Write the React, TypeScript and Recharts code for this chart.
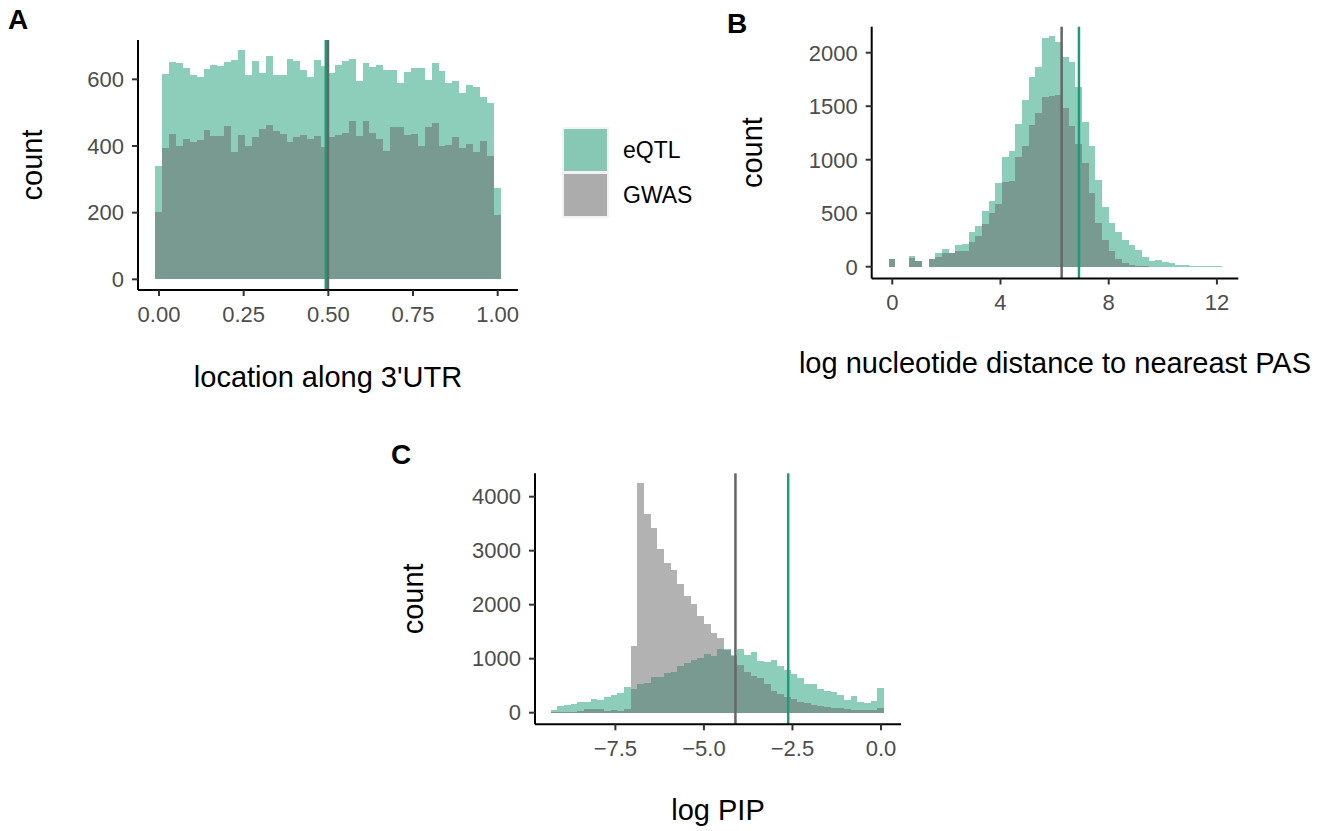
import React from "react";
import { Bar, ComposedChart, ReferenceLine, XAxis, YAxis } from "recharts";

const FONT = '"Liberation Sans", Arial, Helvetica, sans-serif';
const EQTL_COLOR = "#1b9e77";
const GWAS_COLOR = "#666666";

// A: location along 3'UTR (50 bins centred on 0 .. 1)
const utrBinStart = 0;
const utrBinWidth = 1 / 49;
const utrEqtl = [
	340, 615, 651, 649, 633, 612, 606, 630, 642, 639, 651, 657, 687, 612, 654, 618, 669,
	612, 612, 660, 654, 627, 606, 657, 639, 618, 642, 654, 660, 594, 648, 636, 642, 627,
	627, 588, 621, 633, 633, 597, 648, 624, 588, 594, 558, 582, 576, 546, 528, 273,
];
const utrGwas = [
	201, 393, 435, 399, 420, 411, 417, 447, 429, 431, 459, 381, 432, 399, 426, 450, 462,
	444, 435, 411, 426, 432, 420, 429, 396, 426, 432, 438, 474, 429, 474, 438, 420, 384,
	456, 456, 432, 435, 399, 456, 468, 399, 402, 426, 393, 405, 381, 414, 369, 192,
];
const utrXTicks = [0, 0.25, 0.5, 0.75, 1];
const utrYTicks = [0, 200, 400, 600];
const utrMedianEqtl = 0.4925;
const utrMedianGwas = 0.499;

// B: log nucleotide distance to nearest PAS
const pasBinStart = 0;
const pasBinWidth = 0.2464;
const pasEqtl = [
	70, 0, 0, 100, 53, 0, 75, 131, 166, 131, 203, 213, 326, 382, 520, 617, 783, 1027,
	1086, 1330, 1556, 1772, 1862, 2138, 2157, 2097, 1956, 1909, 1684, 1349, 1130, 811,
	560, 413, 326, 250, 203, 157, 94, 56, 63, 41, 31, 16, 13, 9, 6, 6, 3, 3,
];
const pasGwas = [
	70, 0, 0, 81, 53, 0, 75, 94, 131, 125, 150, 150, 235, 288, 400, 504, 588, 795, 804,
	1024, 1124, 1321, 1434, 1590, 1596, 1603, 1480, 1315, 1149, 970, 685, 404, 250, 144,
	75, 34, 13, 6, 6, 0, 0, 0, 0, 0, 0, 0, 0, 0, 0, 0,
];
const pasXTicks = [0, 4, 8, 12];
const pasYTicks = [0, 500, 1000, 1500, 2000];
const pasMedianEqtl = 6.9;
const pasMedianGwas = 6.26;

// C: log PIP
const pipBinStart = -9.22;
const pipBinWidth = 0.1882;
const pipEqtl = [
	49, 123, 142, 160, 197, 197, 253, 234, 290, 327, 364, 475, 438, 531, 549, 660, 660,
	734, 753, 864, 919, 975, 1012, 1086, 1049, 1178, 1178, 1070, 1178, 1067, 1123, 956,
	938, 975, 864, 790, 716, 642, 531, 531, 438, 401, 383, 327, 234, 308, 197, 179, 216, 457,
];
const pipGwas = [
	12, 12, 12, 18, 31, 68, 68, 68, 37, 49, 31, 74, 1234, 4251, 3677, 3418, 3029, 2770,
	2641, 2382, 2160, 2011, 1789, 1641, 1475, 1382, 1160, 1049, 882, 753, 679, 642, 531,
	401, 346, 290, 253, 197, 179, 142, 123, 105, 86, 86, 68, 49, 49, 49, 49, 86,
];
const pipXTicks = [-7.5, -5, -2.5, 0];
const pipYTicks = [0, 1000, 2000, 3000, 4000];
const pipMedianEqtl = -2.62;
const pipMedianGwas = -4.11;

const legendItems = [
	{ name: "eQTL", color: "rgba(27, 158, 119, 0.5)" },
	{ name: "GWAS", color: "rgba(102, 102, 102, 0.5)" },
];

const toRows = (start: number, step: number, eqtl: number[], gwas: number[]) =>
	eqtl.map((v, i) => ({ x: start + i * step, eqtl: v, gwas: gwas[i] }));

const minus = (s: string) => s.replace("-", "\u2212");

const Y_AXIS_W = 60;
const X_AXIS_H = 60;
const TITLE_SIZE = 29;

function CountTitle({ viewBox, gap }: any) {
	const x = viewBox.x + viewBox.width - gap;
	const y = viewBox.y + viewBox.height / 2;
	return (
		<text
			x={x}
			y={y}
			transform={`rotate(-90 ${x} ${y})`}
			textAnchor="middle"
			dominantBaseline="central"
			fontSize={TITLE_SIZE}
			fontFamily={FONT}
			fill="#000"
		>
			count
		</text>
	);
}

// recharts floors the bar width, which leaves white seams between bins;
// redraw each bin at its true width around the same centre
const binShape = (exact: number) => (props: any) => {
	const { x, y, width, height, fill, fillOpacity } = props;
	if (!height) return <g />;
	return (
		<rect
			x={x + width / 2 - exact / 2}
			y={y}
			width={exact}
			height={height}
			fill={fill}
			fillOpacity={fillOpacity}
			shapeRendering="crispEdges"
		/>
	);
};

type HistProps = {
	width: number;
	height: number;
	margin: { top: number; right: number; bottom: number; left: number };
	rows: { x: number; eqtl: number; gwas: number }[];
	binWidth: number;
	xDomain: [number, number];
	yDomain: [number, number];
	xTicks: number[];
	yTicks: number[];
	xFormat: (v: number) => string;
	medianEqtl: number;
	medianGwas: number;
	xTitle: string;
	titleOffset: number;
	countGap: number;
};

function Histogram(p: HistProps) {
	const plotW = p.width - p.margin.left - p.margin.right - Y_AXIS_W;
	const barSize = (plotW / (p.xDomain[1] - p.xDomain[0])) * p.binWidth;
	const tick = { fill: "#4d4d4d", fontSize: 22, fontFamily: FONT };
	const tickLine = { stroke: "#333333", strokeWidth: 2 };
	const axisLine = { stroke: "#000000", strokeWidth: 2 };
	return (
		<ComposedChart
			width={p.width}
			height={p.height}
			data={p.rows}
			margin={p.margin}
			barCategoryGap={0}
			barGap={0}
		>
			<XAxis
				xAxisId="e"
				type="number"
				dataKey="x"
				domain={p.xDomain}
				ticks={p.xTicks}
				tickFormatter={p.xFormat}
				interval={0}
				height={X_AXIS_H}
				tick={tick}
				tickLine={tickLine}
				axisLine={axisLine}
				tickSize={6}
				tickMargin={10}
				label={{
					value: p.xTitle,
					position: "bottom",
					offset: p.titleOffset,
					fill: "#000",
					fontSize: TITLE_SIZE,
					fontFamily: FONT,
				}}
			/>
			<XAxis xAxisId="g" type="number" dataKey="x" domain={p.xDomain} hide />
			<YAxis
				type="number"
				domain={p.yDomain}
				ticks={p.yTicks}
				interval={0}
				width={Y_AXIS_W}
				tick={tick}
				tickLine={tickLine}
				axisLine={axisLine}
				tickSize={6}
				tickMargin={8}
				label={(props: any) => <CountTitle {...props} gap={p.countGap} />}
			/>
			<Bar
				xAxisId="e"
				dataKey="eqtl"
				fill={EQTL_COLOR}
				fillOpacity={0.5}
				barSize={barSize}
				shape={binShape(barSize)}
				isAnimationActive={false}
			/>
			<Bar
				xAxisId="g"
				dataKey="gwas"
				fill={GWAS_COLOR}
				fillOpacity={0.5}
				barSize={barSize}
				shape={binShape(barSize)}
				isAnimationActive={false}
			/>
			<ReferenceLine xAxisId="e" x={p.medianEqtl} stroke={EQTL_COLOR} strokeWidth={2.5} />
			<ReferenceLine xAxisId="e" x={p.medianGwas} stroke={GWAS_COLOR} strokeWidth={2.5} />
		</ComposedChart>
	);
}

const letterStyle = (left: number, top: number): React.CSSProperties => ({
	position: "absolute",
	left,
	top,
	fontSize: 28,
	lineHeight: "28px",
	fontWeight: "bold",
	fontFamily: FONT,
	color: "#000",
});

export default function App() {
	return (
		<div
			style={{
				position: "absolute",
				left: 0,
				top: 0,
				width: 1327,
				height: 831,
				background: "#fff",
				fontFamily: FONT,
				overflow: "hidden",
			}}
		>
			<div style={{ position: "absolute", left: 0, top: 0 }}>
				<Histogram
					width={560}
					height={400}
					margin={{ top: 40, right: 42, bottom: 50, left: 78 }}
					rows={toRows(utrBinStart, utrBinWidth, utrEqtl, utrGwas)}
					binWidth={utrBinWidth}
					xDomain={[-0.062, 1.06]}
					yDomain={[-32, 718]}
					xTicks={utrXTicks}
					yTicks={utrYTicks}
					xFormat={(v) => v.toFixed(2)}
					medianEqtl={utrMedianEqtl}
					medianGwas={utrMedianGwas}
					xTitle="location along 3'UTR"
					titleOffset={16}
					countGap={106}
				/>
			</div>
			<div style={{ position: "absolute", left: 700, top: 0 }}>
				<Histogram
					width={627}
					height={400}
					margin={{ top: 26.7, right: 88.7, bottom: 61.5, left: 111.7 }}
					rows={toRows(pasBinStart, pasBinWidth, pasEqtl, pasGwas)}
					binWidth={pasBinWidth}
					xDomain={[-0.76, 12.79]}
					yDomain={[-110, 2243]}
					xTicks={pasXTicks}
					yTicks={pasYTicks}
					xFormat={(v) => String(v)}
					medianEqtl={pasMedianEqtl}
					medianGwas={pasMedianGwas}
					xTitle="log nucleotide distance to neareast PAS"
					titleOffset={14}
					countGap={120}
				/>
			</div>
			<div style={{ position: "absolute", left: 380, top: 420 }}>
				<Histogram
					width={560}
					height={411}
					margin={{ top: 53.3, right: 39, bottom: 46.7, left: 95 }}
					rows={toRows(pipBinStart, pipBinWidth, pipEqtl, pipGwas)}
					binWidth={pipBinWidth}
					xDomain={[-9.77, 0.565]}
					yDomain={[-215, 4433]}
					xTicks={pipXTicks}
					yTicks={pipYTicks}
					xFormat={(v) => minus(v.toFixed(1))}
					medianEqtl={pipMedianEqtl}
					medianGwas={pipMedianGwas}
					xTitle="log PIP"
					titleOffset={15}
					countGap={122}
				/>
			</div>

			{/* legend */}
			<div
				style={{
					position: "absolute",
					left: 562,
					top: 127,
					padding: 2,
					background: "#f2f2f2",
					display: "flex",
					flexDirection: "column",
					gap: 3,
				}}
			>
				{legendItems.map((it) => (
					<div key={it.name} style={{ width: 43, height: 42, background: it.color }} />
				))}
			</div>
			{legendItems.map((it, i) => (
				<div
					key={it.name}
					style={{
						position: "absolute",
						left: 623,
						top: 129 + i * 45,
						height: 42,
						lineHeight: "42px",
						fontSize: 23,
						color: "#000",
					}}
				>
					{it.name}
				</div>
			))}

			<div style={letterStyle(8, 6)}>A</div>
			<div style={letterStyle(727, 10)}>B</div>
			<div style={letterStyle(391, 441)}>C</div>
		</div>
	);
}
